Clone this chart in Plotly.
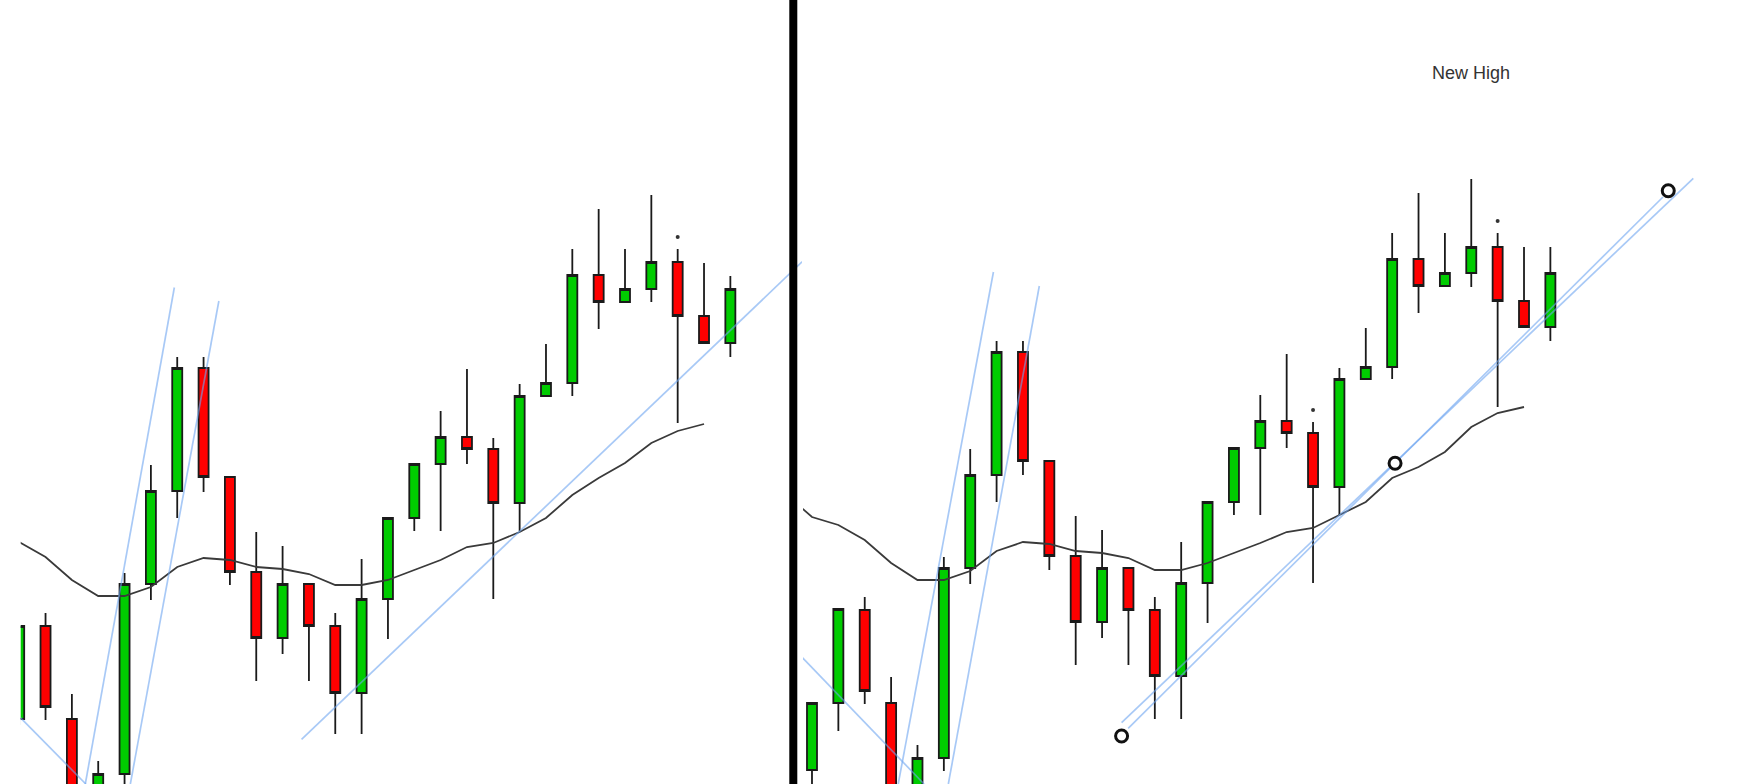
"""Two candlestick snapshots side by side with trendlines and moving average."""

import plotly.graph_objects as go
from plotly.subplots import make_subplots

# ---- left snapshot -------------------------------------------------------
left_x = list(range(28))
left_open = [106.5, 115.8, 106.5, 96.4, 101.0, 120.0, 129.3, 141.6, 130.7, 121.2,
             114.6, 120.0, 115.8, 109.1, 118.5, 126.6, 132.0, 134.7, 133.5, 128.1,
             138.8, 140.1, 150.9, 148.2, 149.5, 152.2, 146.8, 144.1]
left_high = [115.8, 117.1, 109.0, 102.3, 121.1, 131.9, 142.7, 142.7, 130.7, 125.2,
             123.8, 120.0, 117.1, 122.5, 126.6, 132.0, 137.3, 141.5, 134.6, 140.0,
             144.0, 153.5, 157.5, 153.5, 158.9, 153.5, 152.1, 150.8]
left_low = [105.9, 106.4, 93.4, 94.4, 98.4, 118.4, 126.6, 129.2, 119.9, 110.3,
            113.0, 110.3, 105.0, 105.0, 114.5, 125.3, 125.3, 132.0, 118.5, 125.3,
            138.8, 138.8, 145.5, 148.2, 148.2, 136.1, 144.1, 142.7]
left_close = [115.8, 107.7, 95.4, 101.0, 120.0, 129.3, 141.6, 130.7, 121.2, 114.6,
              120.0, 115.8, 109.1, 118.5, 126.6, 132.0, 134.7, 133.5, 128.1, 138.8,
              140.1, 150.9, 148.2, 149.5, 152.2, 146.8, 144.1, 149.5]
left_ma_x = list(range(27))
left_ma = [124.2, 122.7, 120.4, 118.8, 118.8, 119.7, 121.7, 122.6, 122.4, 121.7,
           121.5, 121.0, 119.9, 119.9, 120.4, 121.4, 122.4, 123.7, 124.1, 125.2,
           126.6, 128.9, 130.6, 132.1, 134.1, 135.3, 136.0]
left_trend_x = [[2.51, 5.89], [4.22, 7.58], [-0.5, 2.53], [10.72, 29.73]]
left_trend_y = [[100.0, 149.65], [100.0, 148.3], [108.1, 100.0], [104.46, 152.23]]
left_dot_x = [25]
left_dot_y = [154.7]

# ---- right snapshot ------------------------------------------------------
right_x = list(range(29))
right_open = [101.4, 108.1, 117.4, 108.1, 98.4, 102.6, 121.6, 130.9, 143.2, 132.3,
              122.8, 116.2, 121.6, 117.4, 110.8, 120.1, 128.2, 133.6, 136.3, 135.1,
              129.7, 140.5, 141.7, 152.5, 149.8, 151.1, 153.7, 148.3, 145.7]
right_high = [108.1, 117.5, 118.7, 110.7, 103.9, 122.7, 133.5, 144.3, 144.3, 132.3,
              126.8, 125.4, 121.6, 118.7, 124.2, 128.2, 133.6, 138.9, 143.0, 136.2,
              141.6, 145.6, 155.1, 159.1, 155.1, 160.5, 155.1, 153.7, 153.7]
right_low = [99.4, 105.3, 108.0, 93.4, 96.4, 101.3, 120.0, 128.2, 130.9, 121.4,
             111.9, 114.6, 111.9, 106.5, 106.5, 116.1, 126.9, 126.9, 133.6, 120.1,
             126.9, 140.5, 140.5, 147.1, 149.8, 149.7, 137.7, 145.7, 144.3]
right_close = [108.1, 117.5, 109.3, 95.4, 102.6, 121.6, 130.9, 143.2, 132.3, 122.8,
               116.2, 121.6, 117.4, 110.8, 120.1, 128.2, 133.6, 136.3, 135.1, 129.7,
               140.5, 141.7, 152.5, 149.8, 151.1, 153.7, 148.3, 145.7, 151.1]
right_ma_x = list(range(-1, 28))
right_ma = [129.0, 126.7, 125.9, 124.4, 122.1, 120.4, 120.4, 121.3, 123.3, 124.2,
            124.0, 123.3, 123.1, 122.6, 121.4, 121.4, 122.1, 123.1, 124.1, 125.2,
            125.6, 126.9, 128.2, 130.6, 131.7, 133.2, 135.7, 137.1, 137.7]
right_trend_x = [[3.27, 6.88], [5.17, 8.62], [-0.5, 4.25], [11.99, 32.27], [11.74, 33.42]]
right_trend_y = [[100.0, 151.2], [100.0, 149.8], [113.0, 100.0], [105.57, 158.7], [106.13, 160.57]]
pivot_x = [11.74, 22.11, 32.47]
pivot_y = [104.8, 132.07, 159.33]
right_dot_x = [19, 26]
right_dot_y = [137.4, 156.3]

GREEN = "#00cc00"
RED = "#ff0000"
OUTLINE = "#1a1a1a"
TREND = "rgba(110,165,240,0.6)"
MA_COLOR = "#3a3a3a"

fig = make_subplots(rows=1, cols=2)


def add_panel(col, x, o, h, l, c, ma_x, ma, trend_x, trend_y, dot_x, dot_y):
    fig.add_trace(
        go.Candlestick(
            x=x, open=o, high=h, low=l, close=c,
            increasing=dict(fillcolor=GREEN, line=dict(color=OUTLINE, width=1.8)),
            decreasing=dict(fillcolor=RED, line=dict(color=OUTLINE, width=1.8)),
            hoverinfo="skip",
        ),
        row=1, col=col,
    )
    fig.add_trace(
        go.Scatter(x=ma_x, y=ma, mode="lines",
                   line=dict(color=MA_COLOR, width=1.8), hoverinfo="skip"),
        row=1, col=col,
    )
    for tx, ty in zip(trend_x, trend_y):
        fig.add_trace(
            go.Scatter(x=tx, y=ty, mode="lines",
                       line=dict(color=TREND, width=1.7), hoverinfo="skip"),
            row=1, col=col,
        )
    fig.add_trace(
        go.Scatter(x=dot_x, y=dot_y, mode="markers",
                   marker=dict(color="#333333", size=4), hoverinfo="skip"),
        row=1, col=col,
    )


add_panel(1, left_x, left_open, left_high, left_low, left_close,
          left_ma_x, left_ma, left_trend_x, left_trend_y, left_dot_x, left_dot_y)
add_panel(2, right_x, right_open, right_high, right_low, right_close,
          right_ma_x, right_ma, right_trend_x, right_trend_y, right_dot_x, right_dot_y)

# pivot circles on the right snapshot
fig.add_trace(
    go.Scatter(x=pivot_x, y=pivot_y, mode="markers",
               marker=dict(symbol="circle", size=12, color="white",
                           line=dict(color="#111111", width=3)),
               hoverinfo="skip"),
    row=1, col=2,
)

fig.add_annotation(x=25, y=171.1, xref="x2", yref="y2", text="New High",
                   showarrow=False,
                   font=dict(family="Liberation Sans, Arial", size=18, color="#333333"))

W, H = 1745, 784
fig.update_xaxes(visible=False, rangeslider_visible=False)
fig.update_yaxes(visible=False, range=[100, 178.4])
fig.update_layout(
    xaxis=dict(domain=[20.7 / W, 802 / W], range=[0.057, 29.72]),
    xaxis2=dict(domain=[803 / W, 1.0], range=[-0.341, 35.38]),
    boxgap=0.62,
    boxgroupgap=0,
    width=W,
    height=H,
    margin=dict(l=0, r=0, t=0, b=0),
    showlegend=False,
    plot_bgcolor="white",
    paper_bgcolor="white",
    shapes=[dict(type="rect", xref="paper", yref="paper",
                 x0=789.3 / W, x1=797.3 / W, y0=0, y1=1,
                 fillcolor="black", line=dict(width=0))],
)

fig.write_html("out.html", config={"displayModeBar": False},
               post_script="document.body.style.margin='0';")
